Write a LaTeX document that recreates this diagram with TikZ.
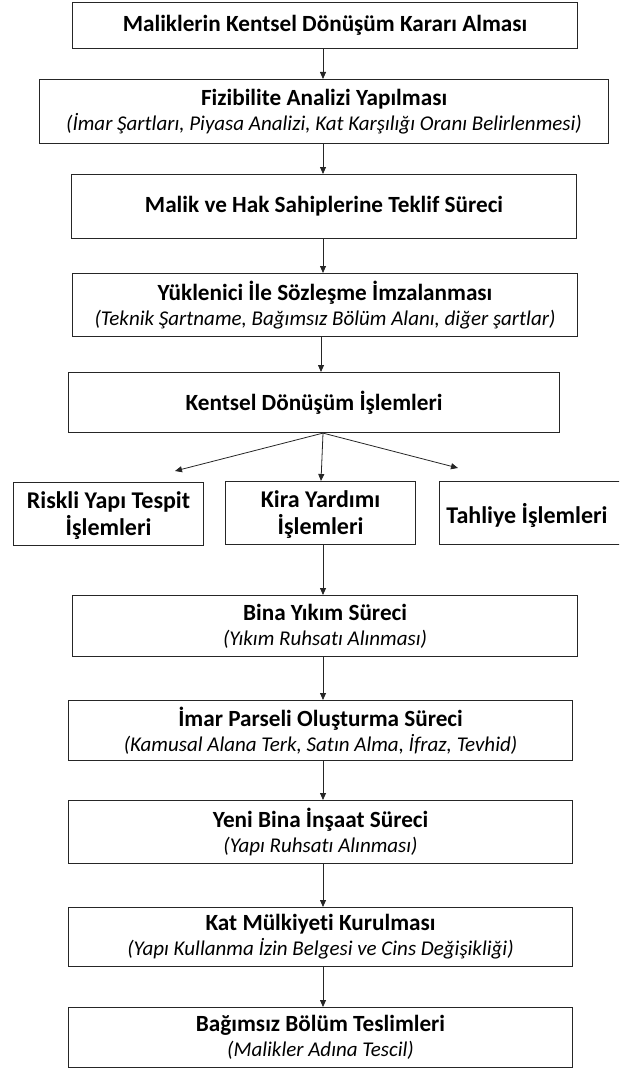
\documentclass[tikz,border=0pt]{standalone}
\usepackage{fontspec}
\setmainfont{Carlito}[Ligatures=NoCommon]
\usetikzlibrary{arrows.meta}
\newcommand{\ttlf}{\fontsize{23.2}{25}\selectfont\bfseries}
\newcommand{\subf}{\fontsize{21}{25}\selectfont\itshape}
\begin{document}
\begin{tikzpicture}[x=1pt,y=-1pt,
  box/.style={draw=black!85, line width=1.1pt, anchor=north west, inner sep=0pt,
    align=center, font=\fontsize{23.2}{25}\selectfont},
  row/.style={box, font=\fontsize{24}{27}\selectfont\bfseries},
  arr/.style={draw=black!85, line width=0.8pt, -{Triangle[length=7pt,width=6pt]}}]
\useasboundingbox (0,0) rectangle (619,1070);
\begin{scope}
\clip (0,0) rectangle (619,1070);
\node[box, minimum width=505pt, minimum height=46pt] (b1) at (72,2)
  {\ttlf Maliklerin Kentsel Dönüşüm Kararı Alması};
\node[box, minimum width=569pt, minimum height=64pt] (b2) at (39,79)
  {\ttlf Fizibilite Analizi Yapılması\\\subf (İmar Şartları, Piyasa Analizi, Kat Karşılığı Oranı Belirlenmesi)};
\node[box, minimum width=505pt, minimum height=64pt] (b3) at (71,174)
  {\ttlf Malik ve Hak Sahiplerine Teklif Süreci};
\node[box, minimum width=505pt, minimum height=63pt] (b4) at (72,273)
  {\ttlf Yüklenici İle Sözleşme İmzalanması\\\subf (Teknik Şartname, Bağımsız Bölüm Alanı, diğer şartlar)};
\node[box, minimum width=491pt, minimum height=60pt] (b5) at (68,372)
  {\ttlf Kentsel Dönüşüm İşlemleri};
\node[row, minimum width=190pt, minimum height=63pt, text depth=0pt] (bA) at (13,482)
  {Riskli Yapı Tespit\\İşlemleri};
\node[row, minimum width=190pt, minimum height=63pt, text depth=0pt] (bB) at (225,481)
  {Kira Yardımı\\İşlemleri};
\node[box, minimum width=202pt, minimum height=63pt] (bC) at (439,481) {};
\node[font=\fontsize{24}{27}\selectfont\bfseries, inner sep=0pt] (tC) at (527,515) {Tahliye İşlemleri};
\node[box, minimum width=505pt, minimum height=61pt] (b6) at (72,595)
  {\ttlf Bina Yıkım Süreci\\\subf (Yıkım Ruhsatı Alınması)};
\node[box, minimum width=504pt, minimum height=60pt] (b7) at (68,700)
  {\ttlf İmar Parseli Oluşturma Süreci\\\subf (Kamusal Alana Terk, Satın Alma, İfraz, Tevhid)};
\node[box, minimum width=504pt, minimum height=63pt] (b8) at (68,800)
  {\ttlf Yeni Bina İnşaat Süreci\\\subf (Yapı Ruhsatı Alınması)};
\node[box, minimum width=504pt, minimum height=59pt] (b9) at (68,907)
  {\ttlf Kat Mülkiyeti Kurulması\\\subf (Yapı Kullanma İzin Belgesi ve Cins Değişikliği)};
\node[box, minimum width=504pt, minimum height=60pt] (b10) at (68,1007)
  {\ttlf Bağımsız Bölüm Teslimleri\\\subf (Malikler Adına Tescil)};
\end{scope}
\coordinate (ax) at (323,0);
\coordinate (ax2) at (321,0);
\coordinate (tipL) at (175,471);
\coordinate (tipR) at (458,468);
\draw[arr] (b1.south -| ax) -- (b2.north -| ax);
\draw[arr] (b2.south -| ax) -- (b3.north -| ax);
\draw[arr] (b3.south -| ax) -- (b4.north -| ax);
\draw[arr] (b4.south -| ax2) -- (b5.north -| ax2);
\draw[arr] (b5.south -| ax) -- (tipL);
\draw[arr] (b5.south -| ax) -- (bB.north -| ax2);
\draw[arr] (b5.south -| ax) -- (tipR);
\draw[arr] (bB.south -| ax) -- (b6.north -| ax);
\draw[arr] (b6.south -| ax) -- (b7.north -| ax);
\draw[arr] (b7.south -| ax) -- (b8.north -| ax);
\draw[arr] (b8.south -| ax) -- (b9.north -| ax);
\draw[arr] (b9.south -| ax) -- (b10.north -| ax);
\end{tikzpicture}
\end{document}
